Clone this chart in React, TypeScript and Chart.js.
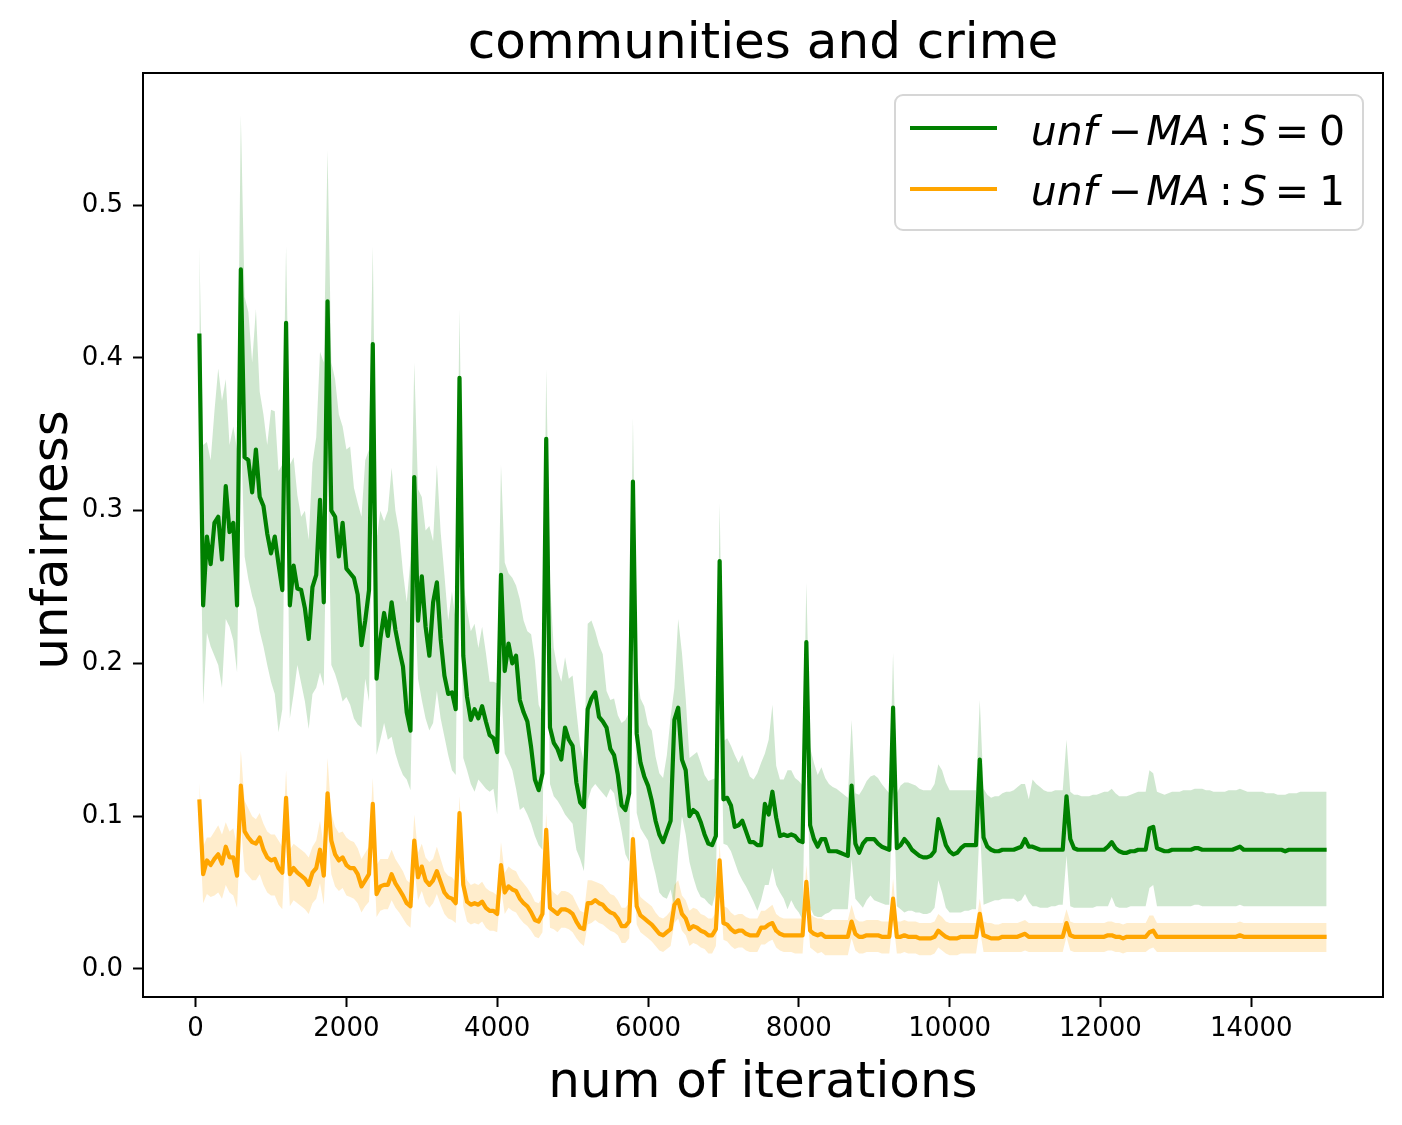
import React, { useEffect, useRef } from "react";
import { Chart, registerables } from "chart.js";

Chart.register(...registerables);

// iteration grid (one sample every 50 iterations)
const ITERATIONS = [
  50, 100, 150, 200, 250, 300, 350, 400, 450, 500,
  550, 600, 650, 700, 750, 800, 850, 900, 950, 1000,
  1050, 1100, 1150, 1200, 1250, 1300, 1350, 1400, 1450, 1500,
  1550, 1600, 1650, 1700, 1750, 1800, 1850, 1900, 1950, 2000,
  2050, 2100, 2150, 2200, 2250, 2300, 2350, 2400, 2450, 2500,
  2550, 2600, 2650, 2700, 2750, 2800, 2850, 2900, 2950, 3000,
  3050, 3100, 3150, 3200, 3250, 3300, 3350, 3400, 3450, 3500,
  3550, 3600, 3650, 3700, 3750, 3800, 3850, 3900, 3950, 4000,
  4050, 4100, 4150, 4200, 4250, 4300, 4350, 4400, 4450, 4500,
  4550, 4600, 4650, 4700, 4750, 4800, 4850, 4900, 4950, 5000,
  5050, 5100, 5150, 5200, 5250, 5300, 5350, 5400, 5450, 5500,
  5550, 5600, 5650, 5700, 5750, 5800, 5850, 5900, 5950, 6000,
  6050, 6100, 6150, 6200, 6250, 6300, 6350, 6400, 6450, 6500,
  6550, 6600, 6650, 6700, 6750, 6800, 6850, 6900, 6950, 7000,
  7050, 7100, 7150, 7200, 7250, 7300, 7350, 7400, 7450, 7500,
  7550, 7600, 7650, 7700, 7750, 7800, 7850, 7900, 7950, 8000,
  8050, 8100, 8150, 8200, 8250, 8300, 8350, 8400, 8450, 8500,
  8550, 8600, 8650, 8700, 8750, 8800, 8850, 8900, 8950, 9000,
  9050, 9100, 9150, 9200, 9250, 9300, 9350, 9400, 9450, 9500,
  9550, 9600, 9650, 9700, 9750, 9800, 9850, 9900, 9950, 10000,
  10050, 10100, 10150, 10200, 10250, 10300, 10350, 10400, 10450, 10500,
  10550, 10600, 10650, 10700, 10750, 10800, 10850, 10900, 10950, 11000,
  11050, 11100, 11150, 11200, 11250, 11300, 11350, 11400, 11450, 11500,
  11550, 11600, 11650, 11700, 11750, 11800, 11850, 11900, 11950, 12000,
  12050, 12100, 12150, 12200, 12250, 12300, 12350, 12400, 12450, 12500,
  12550, 12600, 12650, 12700, 12750, 12800, 12850, 12900, 12950, 13000,
  13050, 13100, 13150, 13200, 13250, 13300, 13350, 13400, 13450, 13500,
  13550, 13600, 13650, 13700, 13750, 13800, 13850, 13900, 13950, 14000,
  14050, 14100, 14150, 14200, 14250, 14300, 14350, 14400, 14450, 14500,
  14550, 14600, 14650, 14700, 14750, 14800, 14850, 14900, 14950, 15000,
];

// S = 0 (green): mean and band edges
const S0_MEAN = [
  0.416, 0.238, 0.283, 0.265, 0.292, 0.296, 0.268, 0.316, 0.286, 0.292,
  0.238, 0.458, 0.335, 0.333, 0.312, 0.340, 0.309, 0.303, 0.285, 0.272,
  0.283, 0.265, 0.248, 0.423, 0.238, 0.264, 0.249, 0.248, 0.236, 0.216,
  0.250, 0.258, 0.307, 0.240, 0.437, 0.300, 0.296, 0.270, 0.292, 0.262,
  0.259, 0.256, 0.245, 0.212, 0.228, 0.248, 0.409, 0.190, 0.216, 0.233,
  0.218, 0.240, 0.222, 0.209, 0.198, 0.168, 0.156, 0.322, 0.228, 0.257,
  0.224, 0.205, 0.240, 0.253, 0.216, 0.192, 0.180, 0.181, 0.170, 0.387,
  0.205, 0.178, 0.163, 0.170, 0.164, 0.172, 0.162, 0.153, 0.151, 0.142,
  0.258, 0.195, 0.213, 0.200, 0.205, 0.176, 0.168, 0.162, 0.145, 0.124,
  0.117, 0.128, 0.347, 0.158, 0.148, 0.144, 0.137, 0.158, 0.150, 0.146,
  0.122, 0.109, 0.106, 0.170, 0.177, 0.181, 0.165, 0.162, 0.158, 0.144,
  0.140, 0.127, 0.107, 0.104, 0.115, 0.319, 0.154, 0.135, 0.126, 0.120,
  0.110, 0.097, 0.088, 0.083, 0.090, 0.097, 0.163, 0.171, 0.137, 0.130,
  0.100, 0.104, 0.102, 0.096, 0.088, 0.082, 0.081, 0.087, 0.267, 0.111,
  0.112, 0.107, 0.093, 0.094, 0.097, 0.090, 0.083, 0.083, 0.081, 0.081,
  0.108, 0.101, 0.116, 0.099, 0.087, 0.088, 0.087, 0.088, 0.087, 0.084,
  0.083, 0.214, 0.094, 0.085, 0.080, 0.085, 0.085, 0.077, 0.077, 0.077,
  0.076, 0.075, 0.074, 0.120, 0.082, 0.076, 0.082, 0.085, 0.085, 0.085,
  0.082, 0.080, 0.079, 0.078, 0.171, 0.079, 0.081, 0.085, 0.082, 0.078,
  0.076, 0.074, 0.073, 0.073, 0.074, 0.077, 0.098, 0.090, 0.081, 0.077,
  0.075, 0.076, 0.079, 0.081, 0.081, 0.081, 0.081, 0.137, 0.086, 0.080,
  0.078, 0.077, 0.077, 0.078, 0.078, 0.078, 0.078, 0.079, 0.080, 0.085,
  0.080, 0.080, 0.079, 0.078, 0.078, 0.078, 0.078, 0.078, 0.078, 0.078,
  0.113, 0.085, 0.079, 0.078, 0.078, 0.078, 0.078, 0.078, 0.078, 0.078,
  0.078, 0.080, 0.083, 0.079, 0.077, 0.076, 0.076, 0.077, 0.077, 0.078,
  0.078, 0.078, 0.092, 0.093, 0.079, 0.078, 0.077, 0.077, 0.078, 0.078,
  0.078, 0.078, 0.078, 0.078, 0.079, 0.079, 0.078, 0.078, 0.078, 0.078,
  0.078, 0.078, 0.078, 0.078, 0.078, 0.079, 0.080, 0.078, 0.078, 0.078,
  0.078, 0.078, 0.078, 0.078, 0.078, 0.078, 0.078, 0.078, 0.077, 0.078,
  0.078, 0.078, 0.078, 0.078, 0.078, 0.078, 0.078, 0.078, 0.078, 0.078,
];

const S0_HIGH = [
  0.473, 0.343, 0.345, 0.333, 0.365, 0.393, 0.372, 0.386, 0.343, 0.355,
  0.340, 0.559, 0.440, 0.430, 0.397, 0.432, 0.378, 0.363, 0.343, 0.366,
  0.365, 0.326, 0.330, 0.473, 0.330, 0.335, 0.310, 0.296, 0.300, 0.281,
  0.331, 0.348, 0.404, 0.397, 0.536, 0.397, 0.386, 0.363, 0.355, 0.340,
  0.342, 0.315, 0.305, 0.296, 0.333, 0.340, 0.473, 0.281, 0.300, 0.293,
  0.300, 0.328, 0.300, 0.286, 0.260, 0.240, 0.268, 0.397, 0.314, 0.309,
  0.287, 0.290, 0.280, 0.330, 0.286, 0.258, 0.228, 0.247, 0.228, 0.432,
  0.253, 0.235, 0.221, 0.226, 0.210, 0.224, 0.207, 0.188, 0.188, 0.187,
  0.330, 0.266, 0.259, 0.256, 0.251, 0.242, 0.228, 0.221, 0.219, 0.202,
  0.173, 0.167, 0.393, 0.253, 0.210, 0.196, 0.188, 0.204, 0.190, 0.192,
  0.169, 0.146, 0.136, 0.226, 0.228, 0.221, 0.212, 0.206, 0.182, 0.176,
  0.177, 0.166, 0.161, 0.163, 0.168, 0.361, 0.196, 0.177, 0.172, 0.160,
  0.156, 0.139, 0.128, 0.125, 0.140, 0.165, 0.184, 0.229, 0.207, 0.177,
  0.138, 0.140, 0.142, 0.135, 0.127, 0.123, 0.124, 0.125, 0.305, 0.149,
  0.151, 0.146, 0.140, 0.135, 0.140, 0.133, 0.126, 0.124, 0.128, 0.135,
  0.141, 0.150, 0.173, 0.133, 0.124, 0.124, 0.130, 0.130, 0.125, 0.123,
  0.120, 0.253, 0.145, 0.135, 0.127, 0.132, 0.125, 0.121, 0.119, 0.118,
  0.116, 0.114, 0.112, 0.163, 0.115, 0.114, 0.118, 0.123, 0.126, 0.127,
  0.125, 0.121, 0.118, 0.115, 0.207, 0.115, 0.120, 0.122, 0.122, 0.121,
  0.120, 0.118, 0.117, 0.117, 0.117, 0.121, 0.134, 0.130, 0.122, 0.117,
  0.117, 0.117, 0.117, 0.117, 0.117, 0.117, 0.117, 0.176, 0.118, 0.114,
  0.112, 0.113, 0.113, 0.115, 0.116, 0.116, 0.117, 0.119, 0.121, 0.121,
  0.111, 0.124, 0.121, 0.119, 0.117, 0.116, 0.116, 0.117, 0.117, 0.117,
  0.150, 0.116, 0.114, 0.114, 0.113, 0.113, 0.113, 0.114, 0.114, 0.115,
  0.116, 0.116, 0.118, 0.115, 0.113, 0.113, 0.113, 0.114, 0.115, 0.116,
  0.116, 0.116, 0.130, 0.128, 0.116, 0.115, 0.114, 0.115, 0.116, 0.116,
  0.116, 0.117, 0.117, 0.117, 0.118, 0.118, 0.118, 0.117, 0.117, 0.116,
  0.116, 0.116, 0.116, 0.117, 0.117, 0.117, 0.118, 0.117, 0.116, 0.116,
  0.116, 0.116, 0.116, 0.115, 0.115, 0.115, 0.114, 0.114, 0.114, 0.115,
  0.115, 0.115, 0.116, 0.116, 0.116, 0.116, 0.116, 0.116, 0.116, 0.116,
];

const S0_LOW = [
  0.360, 0.173, 0.220, 0.211, 0.205, 0.199, 0.184, 0.229, 0.224, 0.215,
  0.194, 0.357, 0.270, 0.255, 0.244, 0.236, 0.221, 0.211, 0.199, 0.188,
  0.180, 0.155, 0.170, 0.373, 0.164, 0.180, 0.199, 0.187, 0.175, 0.157,
  0.180, 0.184, 0.194, 0.185, 0.338, 0.199, 0.193, 0.185, 0.175, 0.178,
  0.173, 0.164, 0.160, 0.158, 0.190, 0.175, 0.345, 0.140, 0.150, 0.161,
  0.150, 0.152, 0.141, 0.133, 0.127, 0.124, 0.117, 0.247, 0.190, 0.176,
  0.164, 0.156, 0.161, 0.182, 0.164, 0.152, 0.140, 0.130, 0.127, 0.342,
  0.138, 0.130, 0.121, 0.116, 0.124, 0.121, 0.118, 0.116, 0.118, 0.101,
  0.186, 0.141, 0.136, 0.130, 0.118, 0.104, 0.106, 0.101, 0.095, 0.087,
  0.081, 0.078, 0.301, 0.121, 0.113, 0.110, 0.106, 0.101, 0.098, 0.095,
  0.078, 0.072, 0.064, 0.110, 0.118, 0.121, 0.118, 0.115, 0.112, 0.118,
  0.115, 0.102, 0.090, 0.075, 0.070, 0.277, 0.102, 0.092, 0.088, 0.084,
  0.072, 0.062, 0.050, 0.047, 0.046, 0.052, 0.040, 0.075, 0.100, 0.088,
  0.070, 0.060, 0.052, 0.047, 0.046, 0.043, 0.041, 0.050, 0.229, 0.082,
  0.081, 0.077, 0.070, 0.063, 0.058, 0.054, 0.049, 0.044, 0.038, 0.045,
  0.055, 0.055, 0.066, 0.055, 0.050, 0.046, 0.039, 0.045, 0.040, 0.037,
  0.032, 0.175, 0.040, 0.035, 0.034, 0.034, 0.036, 0.037, 0.039, 0.039,
  0.039, 0.039, 0.039, 0.072, 0.046, 0.043, 0.040, 0.045, 0.048, 0.045,
  0.044, 0.043, 0.042, 0.042, 0.130, 0.041, 0.039, 0.037, 0.038, 0.038,
  0.037, 0.037, 0.036, 0.036, 0.037, 0.040, 0.058, 0.050, 0.040, 0.037,
  0.037, 0.037, 0.037, 0.038, 0.038, 0.039, 0.039, 0.095, 0.042, 0.043,
  0.044, 0.045, 0.045, 0.046, 0.046, 0.046, 0.046, 0.044, 0.045, 0.049,
  0.044, 0.041, 0.041, 0.040, 0.040, 0.040, 0.041, 0.041, 0.042, 0.042,
  0.074, 0.041, 0.040, 0.040, 0.040, 0.040, 0.040, 0.040, 0.041, 0.041,
  0.041, 0.041, 0.047, 0.041, 0.040, 0.040, 0.040, 0.041, 0.041, 0.041,
  0.041, 0.041, 0.053, 0.055, 0.041, 0.041, 0.041, 0.041, 0.041, 0.041,
  0.041, 0.041, 0.041, 0.041, 0.042, 0.042, 0.041, 0.041, 0.041, 0.041,
  0.041, 0.041, 0.041, 0.041, 0.041, 0.041, 0.042, 0.041, 0.041, 0.041,
  0.041, 0.041, 0.041, 0.041, 0.041, 0.041, 0.041, 0.041, 0.041, 0.041,
  0.041, 0.041, 0.041, 0.041, 0.041, 0.041, 0.041, 0.041, 0.041, 0.041,
];

// S = 1 (orange): mean and band edges
const S1_MEAN = [
  0.111, 0.062, 0.071, 0.068, 0.072, 0.075, 0.069, 0.080, 0.073, 0.073,
  0.061, 0.120, 0.090, 0.086, 0.083, 0.082, 0.086, 0.078, 0.073, 0.071,
  0.072, 0.066, 0.063, 0.112, 0.062, 0.066, 0.063, 0.061, 0.059, 0.055,
  0.063, 0.066, 0.078, 0.061, 0.115, 0.084, 0.075, 0.071, 0.073, 0.068,
  0.066, 0.066, 0.062, 0.054, 0.058, 0.062, 0.108, 0.049, 0.054, 0.055,
  0.055, 0.062, 0.056, 0.052, 0.048, 0.043, 0.041, 0.084, 0.060, 0.067,
  0.058, 0.055, 0.058, 0.064, 0.057, 0.050, 0.047, 0.046, 0.043, 0.102,
  0.055, 0.044, 0.042, 0.043, 0.042, 0.044, 0.040, 0.038, 0.038, 0.036,
  0.068, 0.050, 0.054, 0.052, 0.051, 0.046, 0.043, 0.041, 0.037, 0.032,
  0.031, 0.036, 0.091, 0.040, 0.038, 0.036, 0.039, 0.039, 0.038, 0.036,
  0.031, 0.027, 0.026, 0.043, 0.043, 0.045, 0.043, 0.042, 0.039, 0.037,
  0.036, 0.033, 0.028, 0.028, 0.031, 0.085, 0.041, 0.035, 0.033, 0.031,
  0.029, 0.026, 0.023, 0.022, 0.024, 0.026, 0.042, 0.045, 0.036, 0.033,
  0.026, 0.028, 0.027, 0.025, 0.024, 0.022, 0.022, 0.026, 0.071, 0.030,
  0.029, 0.026, 0.024, 0.025, 0.025, 0.023, 0.022, 0.022, 0.022, 0.027,
  0.027, 0.029, 0.030, 0.025, 0.023, 0.022, 0.022, 0.022, 0.022, 0.022,
  0.022, 0.057, 0.025, 0.023, 0.022, 0.023, 0.021, 0.021, 0.021, 0.021,
  0.021, 0.021, 0.021, 0.031, 0.023, 0.021, 0.021, 0.022, 0.022, 0.022,
  0.022, 0.021, 0.021, 0.021, 0.046, 0.021, 0.021, 0.022, 0.021, 0.021,
  0.021, 0.020, 0.020, 0.020, 0.020, 0.021, 0.025, 0.023, 0.021, 0.020,
  0.020, 0.020, 0.021, 0.021, 0.021, 0.021, 0.021, 0.036, 0.022, 0.021,
  0.020, 0.020, 0.020, 0.021, 0.021, 0.021, 0.021, 0.021, 0.022, 0.023,
  0.021, 0.021, 0.021, 0.021, 0.021, 0.021, 0.021, 0.021, 0.021, 0.021,
  0.030, 0.022, 0.021, 0.021, 0.021, 0.021, 0.021, 0.021, 0.021, 0.021,
  0.021, 0.022, 0.022, 0.021, 0.021, 0.020, 0.021, 0.021, 0.021, 0.021,
  0.021, 0.021, 0.024, 0.025, 0.021, 0.021, 0.021, 0.021, 0.021, 0.021,
  0.021, 0.021, 0.021, 0.021, 0.021, 0.021, 0.021, 0.021, 0.021, 0.021,
  0.021, 0.021, 0.021, 0.021, 0.021, 0.021, 0.022, 0.021, 0.021, 0.021,
  0.021, 0.021, 0.021, 0.021, 0.021, 0.021, 0.021, 0.021, 0.021, 0.021,
  0.021, 0.021, 0.021, 0.021, 0.021, 0.021, 0.021, 0.021, 0.021, 0.021,
];

const S1_HIGH = [
  0.122, 0.080, 0.086, 0.086, 0.090, 0.094, 0.088, 0.096, 0.090, 0.092,
  0.080, 0.143, 0.110, 0.105, 0.100, 0.098, 0.102, 0.095, 0.090, 0.088,
  0.088, 0.084, 0.080, 0.130, 0.078, 0.082, 0.080, 0.078, 0.076, 0.073,
  0.080, 0.084, 0.097, 0.080, 0.138, 0.102, 0.093, 0.089, 0.090, 0.086,
  0.084, 0.083, 0.079, 0.072, 0.076, 0.080, 0.125, 0.068, 0.072, 0.072,
  0.072, 0.078, 0.072, 0.068, 0.064, 0.058, 0.056, 0.101, 0.076, 0.082,
  0.073, 0.070, 0.072, 0.080, 0.072, 0.064, 0.061, 0.060, 0.057, 0.113,
  0.068, 0.058, 0.055, 0.056, 0.055, 0.057, 0.053, 0.051, 0.050, 0.048,
  0.083, 0.063, 0.067, 0.065, 0.064, 0.059, 0.056, 0.053, 0.049, 0.044,
  0.043, 0.047, 0.102, 0.053, 0.050, 0.048, 0.051, 0.051, 0.050, 0.048,
  0.043, 0.038, 0.037, 0.058, 0.058, 0.057, 0.056, 0.055, 0.052, 0.049,
  0.048, 0.045, 0.040, 0.040, 0.043, 0.092, 0.054, 0.047, 0.045, 0.043,
  0.041, 0.037, 0.034, 0.033, 0.035, 0.038, 0.055, 0.058, 0.048, 0.045,
  0.038, 0.040, 0.039, 0.036, 0.035, 0.033, 0.033, 0.037, 0.082, 0.041,
  0.040, 0.037, 0.035, 0.036, 0.036, 0.034, 0.033, 0.033, 0.033, 0.038,
  0.038, 0.040, 0.042, 0.036, 0.034, 0.033, 0.033, 0.033, 0.033, 0.033,
  0.033, 0.068, 0.036, 0.034, 0.033, 0.033, 0.032, 0.032, 0.032, 0.032,
  0.032, 0.032, 0.032, 0.042, 0.033, 0.031, 0.031, 0.032, 0.032, 0.032,
  0.032, 0.031, 0.031, 0.031, 0.059, 0.031, 0.031, 0.032, 0.031, 0.031,
  0.031, 0.030, 0.030, 0.030, 0.030, 0.031, 0.036, 0.034, 0.031, 0.030,
  0.030, 0.030, 0.030, 0.030, 0.030, 0.030, 0.030, 0.046, 0.031, 0.030,
  0.030, 0.029, 0.029, 0.030, 0.030, 0.030, 0.030, 0.030, 0.031, 0.032,
  0.030, 0.030, 0.030, 0.030, 0.030, 0.030, 0.030, 0.030, 0.030, 0.030,
  0.039, 0.031, 0.030, 0.030, 0.030, 0.030, 0.030, 0.030, 0.030, 0.030,
  0.030, 0.031, 0.031, 0.030, 0.030, 0.029, 0.030, 0.030, 0.030, 0.030,
  0.030, 0.030, 0.035, 0.035, 0.030, 0.030, 0.030, 0.030, 0.030, 0.030,
  0.030, 0.030, 0.030, 0.030, 0.030, 0.030, 0.030, 0.030, 0.030, 0.030,
  0.030, 0.030, 0.030, 0.030, 0.030, 0.030, 0.031, 0.030, 0.030, 0.030,
  0.030, 0.030, 0.030, 0.030, 0.030, 0.030, 0.030, 0.030, 0.030, 0.030,
  0.030, 0.030, 0.030, 0.030, 0.030, 0.030, 0.030, 0.030, 0.030, 0.030,
];

const S1_LOW = [
  0.095, 0.043, 0.049, 0.047, 0.048, 0.050, 0.046, 0.055, 0.050, 0.048,
  0.040, 0.095, 0.064, 0.061, 0.058, 0.058, 0.062, 0.055, 0.050, 0.048,
  0.048, 0.042, 0.039, 0.090, 0.041, 0.045, 0.043, 0.041, 0.039, 0.036,
  0.043, 0.046, 0.056, 0.042, 0.092, 0.062, 0.054, 0.051, 0.053, 0.048,
  0.047, 0.046, 0.043, 0.037, 0.041, 0.044, 0.088, 0.034, 0.038, 0.039,
  0.039, 0.045, 0.040, 0.037, 0.033, 0.029, 0.027, 0.066, 0.045, 0.051,
  0.043, 0.040, 0.043, 0.049, 0.042, 0.036, 0.033, 0.032, 0.030, 0.085,
  0.041, 0.031, 0.029, 0.030, 0.029, 0.031, 0.027, 0.025, 0.025, 0.024,
  0.053, 0.036, 0.040, 0.038, 0.037, 0.033, 0.030, 0.028, 0.025, 0.021,
  0.020, 0.024, 0.078, 0.027, 0.026, 0.024, 0.027, 0.027, 0.026, 0.024,
  0.020, 0.017, 0.015, 0.029, 0.030, 0.032, 0.030, 0.029, 0.027, 0.025,
  0.024, 0.022, 0.017, 0.017, 0.020, 0.076, 0.029, 0.024, 0.022, 0.020,
  0.018, 0.015, 0.012, 0.011, 0.013, 0.015, 0.030, 0.033, 0.025, 0.022,
  0.015, 0.017, 0.016, 0.014, 0.013, 0.010, 0.010, 0.015, 0.059, 0.019,
  0.018, 0.015, 0.013, 0.014, 0.014, 0.012, 0.011, 0.011, 0.011, 0.016,
  0.016, 0.018, 0.019, 0.014, 0.012, 0.011, 0.011, 0.011, 0.010, 0.010,
  0.010, 0.046, 0.014, 0.012, 0.010, 0.011, 0.009, 0.009, 0.009, 0.009,
  0.009, 0.009, 0.009, 0.020, 0.012, 0.010, 0.010, 0.011, 0.011, 0.011,
  0.011, 0.010, 0.010, 0.010, 0.033, 0.010, 0.010, 0.011, 0.010, 0.010,
  0.010, 0.009, 0.009, 0.009, 0.009, 0.010, 0.014, 0.012, 0.010, 0.009,
  0.009, 0.009, 0.010, 0.010, 0.010, 0.010, 0.010, 0.026, 0.011, 0.011,
  0.011, 0.011, 0.011, 0.011, 0.011, 0.011, 0.011, 0.011, 0.011, 0.012,
  0.011, 0.011, 0.011, 0.011, 0.011, 0.011, 0.011, 0.011, 0.011, 0.011,
  0.021, 0.012, 0.011, 0.011, 0.011, 0.011, 0.011, 0.011, 0.011, 0.011,
  0.011, 0.012, 0.012, 0.011, 0.011, 0.010, 0.011, 0.011, 0.011, 0.011,
  0.011, 0.011, 0.013, 0.014, 0.011, 0.011, 0.011, 0.011, 0.011, 0.011,
  0.011, 0.011, 0.011, 0.011, 0.011, 0.011, 0.011, 0.011, 0.011, 0.011,
  0.011, 0.011, 0.011, 0.011, 0.011, 0.011, 0.011, 0.011, 0.011, 0.011,
  0.011, 0.011, 0.011, 0.011, 0.011, 0.011, 0.011, 0.011, 0.011, 0.011,
  0.011, 0.011, 0.011, 0.011, 0.011, 0.011, 0.011, 0.011, 0.011, 0.011,
];

const X_TICKS = [0, 2000, 4000, 6000, 8000, 10000, 12000, 14000];
const Y_TICKS = [0, 0.1, 0.2, 0.3, 0.4, 0.5];
const SERIES_VALUES = ["0", "1"];

const TITLE = "communities and crime";
const X_LABEL = "num of iterations";
const Y_LABEL = "unfairness";

const FONT = "'DejaVu Sans', sans-serif";
const GREEN = "#008000";
const ORANGE = "#ffa500";

const toPoints = (ys: number[]) => ys.map((y, i) => ({ x: ITERATIONS[i], y }));

const bandDataset = (ys: number[], color: string, fill: string | boolean) => ({
  data: toPoints(ys),
  borderWidth: 0,
  borderColor: "rgba(0,0,0,0)",
  backgroundColor: color,
  pointRadius: 0,
  fill,
});

// matplotlib-style frame, title, axis labels and legend
const decorPlugin = {
  id: "decor",
  afterDraw(chart: Chart) {
    const { ctx, chartArea } = chart;
    const { left, right, top, bottom } = chartArea;
    const midX = (left + right) / 2;
    ctx.save();

    ctx.strokeStyle = "#000";
    ctx.lineWidth = 2;
    ctx.strokeRect(left, top, right - left, bottom - top);

    ctx.fillStyle = "#000";
    ctx.textBaseline = "alphabetic";
    ctx.textAlign = "center";
    ctx.font = `50px ${FONT}`;
    ctx.fillText(TITLE, midX, 58);
    ctx.fillText(X_LABEL, midX, 1097);
    ctx.save();
    ctx.translate(67, (top + bottom) / 2 + 5);
    ctx.rotate(-Math.PI / 2);
    ctx.fillText(Y_LABEL, 0, 0);
    ctx.restore();

    // legend box
    const bx = 895, by = 95, bw = 468, bh = 135;
    ctx.beginPath();
    ctx.roundRect(bx, by, bw, bh, 8);
    ctx.fillStyle = "rgba(255,255,255,0.8)";
    ctx.fill();
    ctx.strokeStyle = "#d6d6d6";
    ctx.lineWidth = 2;
    ctx.stroke();

    const rows = [
      { color: GREEN, lineY: 128, textY: 145 },
      { color: ORANGE, lineY: 189, textY: 205 },
    ];
    const italic = `italic 41px ${FONT}`;
    const upright = `41px ${FONT}`;
    rows.forEach((row, i) => {
      ctx.strokeStyle = row.color;
      ctx.lineWidth = 4.2;
      ctx.beginPath();
      ctx.moveTo(910, row.lineY);
      ctx.lineTo(997, row.lineY);
      ctx.stroke();

      const parts: [string, string, number][] = [
        ["unf", italic, 1064],
        ["\u2212", upright, 1125],
        ["MA", italic, 1178],
        [":", upright, 1226],
        ["S", italic, 1254],
        ["=", upright, 1292],
        [SERIES_VALUES[i], upright, 1332],
      ];
      ctx.fillStyle = "#000";
      ctx.textAlign = "center";
      parts.forEach(([t, f, x]) => {
        ctx.font = f;
        ctx.fillText(t, x, row.textY);
      });
    });

    ctx.restore();
  },
};

export default function App() {
  const canvasRef = useRef<HTMLCanvasElement>(null);
  const chartRef = useRef<Chart | null>(null);

  useEffect(() => {
    document.body.style.margin = "0";
    if (!canvasRef.current) return;
    if (chartRef.current) chartRef.current.destroy();

    const tickFont = { family: FONT, size: 26 };
    const grid = {
      display: true,
      drawOnChartArea: false,
      drawTicks: true,
      tickLength: 10,
      tickColor: "#000",
      tickWidth: 2,
    };

    chartRef.current = new Chart(canvasRef.current, {
      type: "line",
      data: {
        datasets: [
          {
            label: "unf − MA : S = 0",
            data: toPoints(S0_MEAN),
            borderColor: GREEN,
            borderWidth: 4.2,
            borderJoinStyle: "round",
            pointRadius: 0,
            fill: false,
          },
          {
            label: "unf − MA : S = 1",
            data: toPoints(S1_MEAN),
            borderColor: ORANGE,
            borderWidth: 4.2,
            borderJoinStyle: "round",
            pointRadius: 0,
            fill: false,
          },
          bandDataset(S0_HIGH, "rgba(0,128,0,0.19)", "+1"),
          bandDataset(S0_LOW, "rgba(0,128,0,0.19)", false),
          bandDataset(S1_HIGH, "rgba(255,165,0,0.2)", "+1"),
          bandDataset(S1_LOW, "rgba(255,165,0,0.2)", false),
        ] as any,
      },
      options: {
        animation: false,
        responsive: true,
        maintainAspectRatio: false,
        events: [],
        layout: { padding: { top: 73, right: 19, left: 0, bottom: 0 } },
        plugins: {
          legend: { display: false },
          tooltip: { enabled: false },
          title: { display: false },
        },
        scales: {
          x: {
            type: "linear",
            min: -697.5,
            max: 15747.5,
            grid,
            border: { display: false },
            afterBuildTicks: (scale: any) => {
              scale.ticks = X_TICKS.map((value) => ({ value }));
            },
            afterFit: (scale: any) => {
              scale.height = 128;
            },
            ticks: {
              color: "#000",
              font: tickFont,
              padding: 7,
              maxRotation: 0,
              autoSkip: false,
              callback: (v: any) => String(v),
            },
          },
          y: {
            type: "linear",
            min: -0.0184,
            max: 0.5865,
            grid,
            border: { display: false },
            afterBuildTicks: (scale: any) => {
              scale.ticks = Y_TICKS.map((value) => ({ value }));
            },
            afterFit: (scale: any) => {
              scale.width = 143;
            },
            ticks: {
              color: "#000",
              font: tickFont,
              padding: 10,
              autoSkip: false,
              callback: (v: any) => Number(v).toFixed(1),
            },
          },
        },
      },
      plugins: [decorPlugin],
    });

    return () => {
      chartRef.current?.destroy();
      chartRef.current = null;
    };
  }, []);

  return (
    <div style={{ width: 1402, height: 1125, position: "relative", background: "#fff" }}>
      <canvas ref={canvasRef} />
    </div>
  );
}
